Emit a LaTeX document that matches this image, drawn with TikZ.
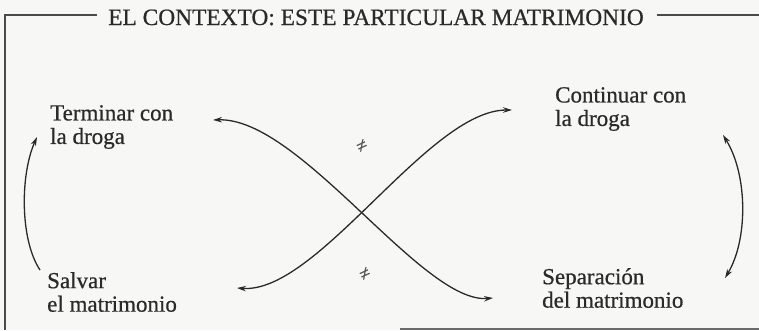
\documentclass[tikz,border=0pt]{standalone}
\usepackage{fontspec}
\setmainfont[FakeBold=0.6]{Liberation Serif}
\usetikzlibrary{arrows.meta}
\definecolor{ink}{HTML}{2A2A2A}
\definecolor{paper}{HTML}{F7F7F5}
\begin{document}
\begin{tikzpicture}[x=1pt,y=-1pt,
  lbl/.style={anchor=north west,align=left,inner sep=0pt,text=ink,
    font=\fontsize{23}{23.5}\selectfont},
  frame/.style={draw=ink!85,line width=1.3pt},
  tip/.tip={Stealth[length=9pt,width=5.5pt]},
  conn/.style={draw=ink,line width=1.3pt,tip-tip},
  oneway/.style={draw=ink,line width=1.3pt,-tip},
  neq/.style={inner sep=0pt,text=ink!80,font=\fontsize{19}{19}\selectfont,rotate=25}]
\useasboundingbox (0,0) rectangle (759,330);
\fill[paper] (0,0) rectangle (759,330);
% title and frame
\node[anchor=base,inner sep=0pt,text=ink,font=\fontsize{23.4}{25}\selectfont] (title) at (376,25)
  {EL CONTEXTO: ESTE PARTICULAR MATRIMONIO};
\coordinate (tl) at (5,15);
\coordinate (bl) at (5,330);
\coordinate (tlend) at (97,15);
\coordinate (trstart) at (657,15);
\coordinate (tr) at (759,15);
\coordinate (bstart) at (400,329);
\coordinate (br) at (759,329);
\draw[frame] (bl) -- (tl) -- (tlend);
\draw[frame] (trstart) -- (tr);
\draw[draw=ink!70,line width=1.3pt] (bstart) -- (br);
% labels
\node[lbl] (term) at (50,105) {Terminar con\\la droga};
\node[lbl] (cont) at (555,87) {Continuar con\\la droga};
\node[lbl] (salv) at (47,272) {Salvar\\el matrimonio};
\node[lbl] (sep) at (542,268) {Separación\\del matrimonio};
% arrow ends
\coordinate (la) at (40,270);
\coordinate (lb) at (37,137);
\coordinate (ra) at (723,135);
\coordinate (rb) at (725,278);
\coordinate (c1a) at (213,120);
\coordinate (c1b) at (493,298);
\coordinate (c2a) at (237,288);
\coordinate (c2b) at (512,110);
\draw[oneway] (la) .. controls (20,240) and (20,175) .. (lb);
\draw[conn] (ra) .. controls (748,175) and (748,240) .. (rb);
\draw[conn] (c1a) .. controls (300,117) and (422,304) .. (c1b);
\draw[conn] (c2a) .. controls (318,294) and (428,110) .. (c2b);
% not-equal marks
\node[neq] (n1) at (362,146) {≠};
\node[neq] (n2) at (365,274) {≠};
\end{tikzpicture}
\end{document}
